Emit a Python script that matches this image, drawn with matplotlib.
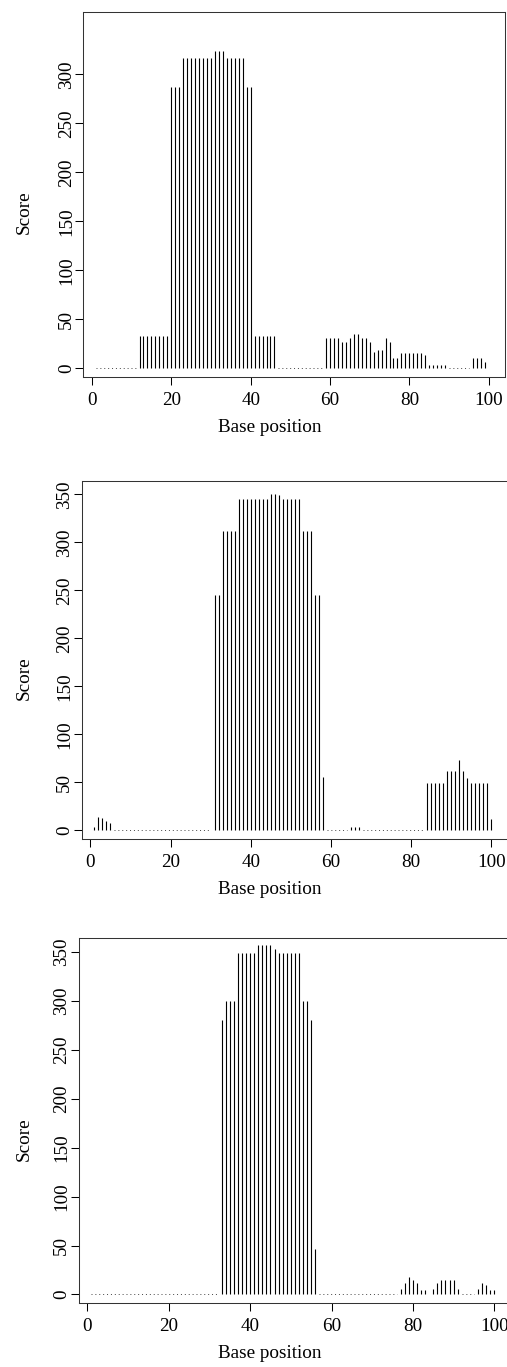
import numpy as np
import matplotlib
matplotlib.use('Agg')
import matplotlib.pyplot as plt

plt.rcParams['font.family'] = ['Liberation Serif', 'DejaVu Serif']

# base positions 1..100
positions = np.arange(1, 101)

# scores (runs of equal values)
runs_top = [(11, 0), (8, 33), (3, 287), (8, 317), (3, 324), (5, 317), (2, 287),
            (6, 33), (12, 0), (4, 31), (2, 27), (1, 31), (2, 35), (2, 31),
            (1, 27), (1, 17), (2, 19), (1, 31), (1, 27), (2, 11), (6, 16),
            (1, 14), (5, 4), (6, 0), (3, 11), (1, 7), (1, 0)]
runs_mid = [(1, 3), (1, 14), (1, 13), (1, 10), (1, 8), (25, 0), (2, 245),
            (4, 312), (8, 345), (2, 350), (1, 349), (5, 345), (3, 312),
            (2, 245), (1, 56), (6, 0), (3, 3), (16, 0), (5, 49), (3, 62),
            (1, 73), (1, 62), (1, 55), (5, 49), (1, 12)]
runs_bot = [(32, 0), (1, 280), (3, 300), (5, 349), (4, 357), (1, 353),
            (6, 349), (2, 300), (1, 280), (1, 47), (20, 0), (1, 6), (1, 12),
            (1, 18), (1, 15), (1, 12), (1, 5), (1, 5), (1, 0), (1, 6), (1, 12),
            (4, 15), (1, 6), (4, 0), (1, 6), (1, 12), (1, 10), (1, 5), (1, 5)]

def expand(runs):
    vals = []
    for n, v in runs:
        vals += [v] * n
    return np.array(vals, dtype=float)

scores = [expand(runs_top), expand(runs_mid), expand(runs_bot)]
yticks = [np.arange(0, 301, 50), np.arange(0, 351, 50), np.arange(0, 351, 50)]
xticks = np.arange(0, 101, 20)

W, H = 507, 1367
# panel boxes in pixels: left, right, top, bottom
boxes = [(83.3, 505, 11.7, 377.3), (81.7, 507.8, 481, 839), (78.5, 511, 938.3, 1303.3)]

fig = plt.figure(figsize=(W / 100, H / 100), dpi=100)

for vals, yt, (l, r, t, b) in zip(scores, yticks, boxes):
    ax = fig.add_axes([l / W, 1 - b / H, (r - l) / W, (b - t) / H])
    ax.vlines(positions, 0, vals, color='black', lw=0.8)
    # dotted baseline only where the score is zero
    zero_line = np.where(vals == 0, 0.0, np.nan)
    ax.plot(positions, zero_line, color='#444444', lw=0.7, linestyle=(0, (1, 3)))
    ax.set_xlim(-2.17, 104.1)
    ax.set_ylim(-9, 364)
    ax.set_xticks(xticks)
    ax.set_yticks(yt)
    ax.tick_params(axis='both', labelsize=13.8, length=5.5, width=0.75, color='black')
    ax.tick_params(axis='x', pad=5)
    ax.tick_params(axis='y', pad=0.5)
    for lab in ax.get_yticklabels():
        lab.set_rotation(90)
        lab.set_va('center')
    for s in ax.spines.values():
        s.set_linewidth(0.75)
        s.set_color('#333333')
    wpx, hpx = r - l, b - t
    ax.set_xlabel('Base position', fontsize=13.8, va='baseline')
    ax.xaxis.set_label_coords((270 - l) / wpx, -55 / hpx)
    ax.set_ylabel('Score', fontsize=13.8, va='center')
    ax.yaxis.set_label_coords((24 - l) / wpx, 0.5 - 18 / hpx)

fig.savefig('out.png', dpi=100)
